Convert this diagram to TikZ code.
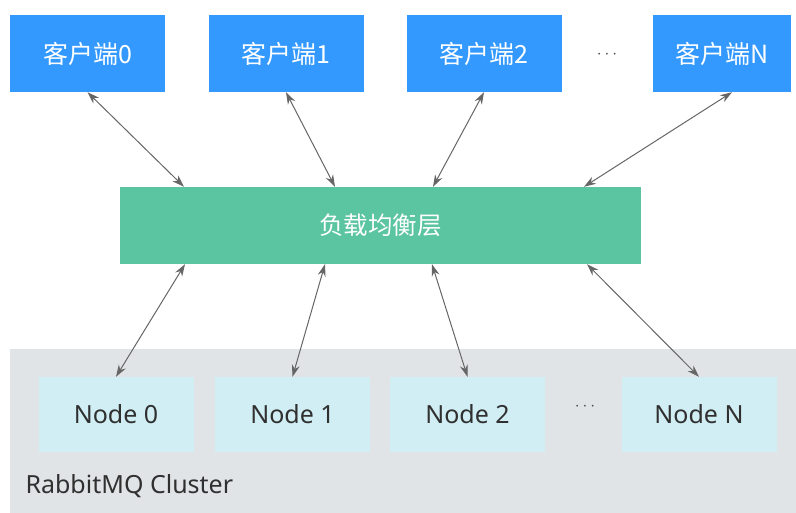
\documentclass[tikz,border=0pt]{standalone}
\usepackage{fontspec}
\setmainfont{Noto Sans}
\newfontfamily\cjk{Noto Sans CJK SC}
\usetikzlibrary{arrows.meta}
\definecolor{cblue}{HTML}{3399FF}
\definecolor{lbgreen}{HTML}{5BC4A0}
\definecolor{ncyan}{HTML}{D0EEF4}
\definecolor{clgray}{HTML}{E1E4E6}
\definecolor{arrgray}{HTML}{666666}
\definecolor{txtdark}{HTML}{303030}
\begin{document}
\begin{tikzpicture}[x=1pt,y=-1pt,
  client/.style={fill=cblue, text=white, minimum width=155pt, minimum height=77pt, inner sep=0pt, font=\cjk\fontsize{25}{30}\selectfont},
  balancer/.style={fill=lbgreen, text=white, minimum width=521pt, minimum height=77pt, inner sep=0pt, font=\cjk\fontsize{24.5}{30}\selectfont},
  mqnode/.style={fill=ncyan, text=txtdark, minimum width=155pt, minimum height=75pt, inner sep=0pt, font=\fontsize{25}{30}\selectfont},
  link/.style={draw=arrgray, line width=1pt, {Stealth[length=12pt,width=8pt]}-{Stealth[length=12pt,width=8pt]}},
  dots/.style={text=black!70, font=\fontsize{16}{18}\selectfont}
]
\useasboundingbox (0,0) rectangle (796,513);
\fill[white] (0,0) rectangle (796,513);
% cluster background
\fill[clgray] (10,349) rectangle (796,513);
\node[anchor=west, text=txtdark, font=\fontsize{25}{30}\selectfont] (cl) at (22,486) {RabbitMQ Cluster};

% clients
\node[client] (c0) at (87.5,53.5) {客户端0};
\node[client] (c1) at (286,53.5) {客户端1};
\node[client] (c2) at (484,53.5) {客户端2};
\node[client, minimum width=138pt] (cn) at (722,53.5) {客户端N};
\node[dots] (d1) at (607,55) {$\cdots$};

% balancer
\node[balancer] (lb) at (380.5,225.5) {负载均衡层};

% nodes
\node[mqnode] (n0) at (116,414.5) {Node 0};
\node[mqnode] (n1) at (292.5,414.5) {Node 1};
\node[mqnode] (n2) at (467.5,414.5) {Node 2};
\node[mqnode] (nn) at (699,414.5) {Node N};
\node[dots] (d2) at (585,407) {$\cdots$};

% links
\draw[link] (c0.south) -- ([xshift=-196.5pt]lb.north);
\draw[link] (c1.south) -- ([xshift=-45.5pt]lb.north);
\draw[link] (c2.south) -- ([xshift=52.5pt]lb.north);
\draw[link] ([xshift=10pt]cn.south) -- ([xshift=203.5pt]lb.north);

\draw[link] ([xshift=-195.5pt]lb.south) -- (n0.north);
\draw[link] ([xshift=-55.5pt]lb.south) -- (n1.north);
\draw[link] ([xshift=51.5pt]lb.south) -- (n2.north);
\draw[link] ([xshift=206.5pt]lb.south) -- (nn.north);
\end{tikzpicture}
\end{document}
